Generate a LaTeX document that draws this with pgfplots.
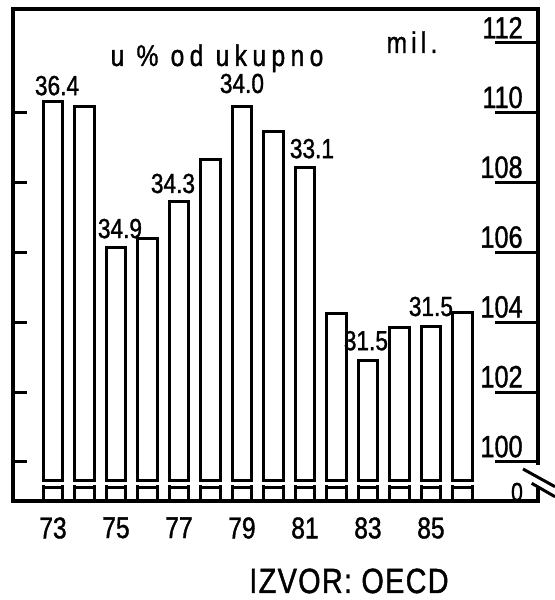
\documentclass[border=0pt]{standalone}
\usepackage{pgfplots}
\pgfplotsset{compat=1.18}
\usepackage{pgfplotstable}
\usepackage{fontspec}
\setmainfont[FakeStretch=0.82,FakeBold=1.2]{Liberation Sans}
\newfontfamily\wideA[FakeStretch=0.82,FakeBold=1.2,LetterSpace=18]{Liberation Sans}
\newfontfamily\wideB[FakeStretch=0.82,FakeBold=1.2,LetterSpace=4]{Liberation Sans}
\newfontfamily\wideC[FakeStretch=0.82,FakeBold=1.2,LetterSpace=14]{Liberation Sans}

\pgfplotstableread{
year value label dx dy
73 110.31 36.4 2 2.5
74 110.17 {} 0 0
75 106.13 34.9 2 4
76 106.39 {} 0 0
77 107.45 34.3 -3 3.5
78 108.65 {} 0 0
79 110.17 34.0 0 6
80 109.45 {} 0 0
81 108.42 33.1 3.5 4
82 104.24 {} 0 0
83 102.89 31.5 -1 4.5
84 103.84 {} 0 0
85 103.87 31.5 0 4.5
86 104.27 {} 0 0
}\bars

\begin{document}
\begin{tikzpicture}
\useasboundingbox (0,0) rectangle (277.5pt,300pt);
\begin{axis}[
  scale only axis, width=262.5pt, height=246pt,
  at={(6.5pt,49.5pt)}, anchor=south west,
  xmin=71.73, xmax=88.40, ymin=98.88, ymax=112.97,
  axis line style={line width=2pt},
  xtick={73,75,...,85},
  xticklabels={73,75,77,79,81,83,85},
  xticklabel style={font=\fontsize{15}{15}\selectfont, inner sep=0pt, anchor=north, yshift=-8pt},
  x tick style={draw=none},
  ytick={100,102,...,110}, yticklabels={},
  ytick pos=left, tick align=inside,
  y tick style={line width=1.5pt, black},
  major tick length=7pt,
]
\addplot[ybar, bar width=0.63, bar shift=0pt, draw=black, fill=white, line width=1.5pt,
  point meta=explicit symbolic,
  nodes near coords,
  visualization depends on={\thisrow{dx}\as\dx},
  visualization depends on={\thisrow{dy}\as\dy},
  every node near coord/.append style={font=\fontsize{13.8}{14}\selectfont, inner sep=0pt, anchor=south, xshift=\dx pt, yshift=\dy pt}]
  table[x=year, y=value, meta=label] \bars;
\addplot[ybar, bar width=0.63, bar shift=0pt, draw=black, fill=white, line width=1.5pt]
  coordinates {(73,99.48)(74,99.48)(75,99.48)(76,99.48)(77,99.48)(78,99.48)(79,99.48)(80,99.48)(81,99.48)(82,99.48)(83,99.48)(84,99.48)(85,99.48)(86,99.48)};
\fill[white] (axis cs:72.4,99.33) rectangle (axis cs:86.7,99.435);
\addplot[ybar, bar width=0.63, bar shift=0pt, draw=black, fill=white, line width=1.5pt]
  coordinates {(73,99.28)(74,99.28)(75,99.28)(76,99.28)(77,99.28)(78,99.28)(79,99.28)(80,99.28)(81,99.28)(82,99.28)(83,99.28)(84,99.28)(85,99.28)(86,99.28)};
\end{axis}
\begin{axis}[
  scale only axis, width=262.5pt, height=246pt,
  at={(6.5pt,49.5pt)}, anchor=south west,
  xmin=71.73, xmax=88.40, ymin=98.88, ymax=112.97,
  hide x axis,
  axis y line*=right,
  axis line style={line width=2pt},
  ytick={100,102,...,112},
  yticklabels={100,102,104,106,108,110,112},
  tick align=inside,
  major tick length=21.5pt,
  y tick style={line width=1.5pt, black},
  yticklabel style={font=\fontsize{15.4}{16}\selectfont, anchor=south east, inner sep=0pt, xshift=-7.5pt, yshift=2pt},
]
\addplot[draw=none] coordinates {(80,105)};
\end{axis}
\fill[white] (265pt,56pt) rectangle (273pt,67.5pt);
\draw[line width=1.5pt] (261.5pt,65.5pt) -- (277.5pt,56.65pt);
\draw[line width=1.5pt] (265.85pt,58.35pt) -- (277.5pt,51.65pt);
\node[font=\fontsize{13}{14}\selectfont, inner sep=0pt] at (258.5pt,54pt) {0};
\node[anchor=base, inner sep=0pt, font=\wideA\fontsize{15}{16}\selectfont] at (108.5pt,267pt) {u \% od ukupno};
\node[anchor=base, inner sep=0pt, font=\wideC\fontsize{15}{16}\selectfont] at (206pt,273.5pt) {mil.};
\node[anchor=base, inner sep=0pt, font=\wideB\fontsize{17.5}{18}\selectfont] at (174.5pt,3.5pt) {IZVOR: OECD};
\end{tikzpicture}
\end{document}
